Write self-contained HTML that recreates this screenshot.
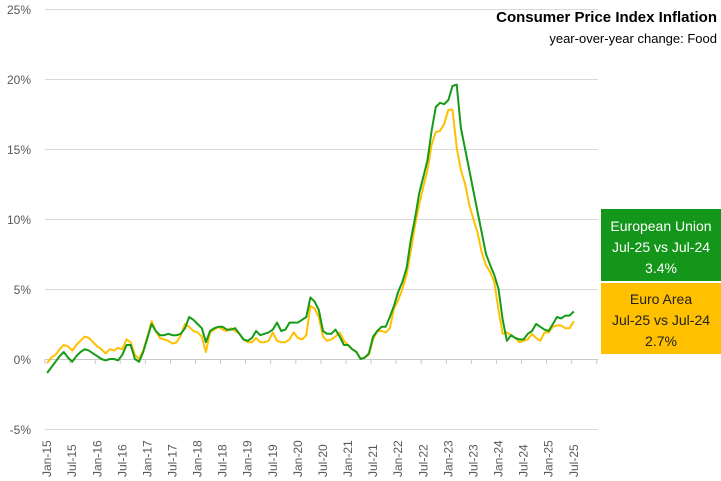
<!DOCTYPE html>
<html><head><meta charset="utf-8"><style>
body{margin:0;background:#fff;}
svg{display:block;font-family:"Liberation Sans",sans-serif;}
</style></head><body>
<svg id="s" width="721" height="481" viewBox="0 0 721 481">
<rect width="721" height="481" fill="#fff"/>
<g stroke="#d9d9d9" stroke-width="1">
<line x1="45" x2="598" y1="9.5" y2="9.5"/><line x1="45" x2="598" y1="79.5" y2="79.5"/>
<line x1="45" x2="598" y1="149.5" y2="149.5"/><line x1="45" x2="598" y1="219.5" y2="219.5"/>
<line x1="45" x2="598" y1="289.5" y2="289.5"/><line x1="45" x2="598" y1="429.5" y2="429.5"/>
<line x1="45" x2="598" y1="359.5" y2="359.5" stroke="#c8c8c8"/>
</g>
<g id="ticks" stroke="#c8c8c8"></g>
<g font-size="12" fill="#595959" text-anchor="end">
<text x="31" y="14">25%</text><text x="31" y="84">20%</text><text x="31" y="154">15%</text>
<text x="31" y="224">10%</text><text x="31" y="294">5%</text><text x="31" y="364">0%</text><text x="31" y="434">-5%</text>
</g>
<g id="xl" font-size="12" fill="#595959"></g>
<polyline id="ea" fill="none" stroke="#ffc000" stroke-width="2" stroke-linejoin="round"/>
<polyline id="eu" fill="none" stroke="#169b16" stroke-width="2" stroke-linejoin="round"/>
<text x="717" y="22" text-anchor="end" font-weight="bold" font-size="15" fill="#000">Consumer Price Index Inflation</text>
<text x="717" y="43" text-anchor="end" font-size="13" fill="#000">year-over-year change: Food</text>
<rect x="601" y="209" width="120" height="72" fill="#14961a"/>
<g fill="#fff" font-size="14" text-anchor="middle"><text x="661" y="231">European Union</text><text x="661" y="252">Jul-25 vs Jul-24</text><text x="661" y="273">3.4%</text></g>
<rect x="601" y="283" width="120" height="71" fill="#ffc000"/>
<g fill="#222" font-size="14" text-anchor="middle"><text x="661" y="304">Euro Area</text><text x="661" y="325">Jul-25 vs Jul-24</text><text x="661" y="346">2.7%</text></g>
</svg>
<script>
var eu=[-1.0,-0.6,-0.2,0.2,0.5,0.1,-0.2,0.2,0.5,0.7,0.6,0.4,
0.2,0.0,-0.1,0.0,0.0,-0.1,0.3,1.0,1.0,0.0,-0.2,0.5,
1.5,2.5,2.0,1.7,1.7,1.8,1.7,1.7,1.8,2.2,3.0,2.8,
2.5,2.2,1.2,2.0,2.2,2.3,2.3,2.1,2.1,2.2,1.8,1.4,
1.3,1.5,2.0,1.7,1.8,1.9,2.1,2.6,2.0,2.1,2.6,2.6,
2.6,2.8,3.0,4.4,4.1,3.5,2.0,1.8,1.8,2.1,1.6,1.0,
1.0,0.7,0.5,0.0,0.1,0.4,1.6,2.0,2.3,2.3,3.0,3.8,
4.8,5.5,6.5,8.5,10.0,11.8,13.0,14.2,16.3,18.0,18.3,18.2,
18.5,19.5,19.6,16.5,15.0,13.5,12.0,10.5,9.0,7.5,6.7,6.0,
5.0,2.8,1.3,1.7,1.5,1.4,1.4,1.8,2.0,2.5,2.3,2.1,
2.0,2.5,3.0,2.9,3.1,3.1,3.4];
var ea=[-0.3,0.1,0.3,0.7,1.0,0.9,0.6,1.0,1.3,1.6,1.5,1.2,
0.9,0.7,0.4,0.7,0.6,0.8,0.7,1.4,1.2,0.3,0.0,0.6,
1.6,2.7,2.0,1.5,1.4,1.3,1.1,1.2,1.7,2.5,2.3,2.0,
1.9,1.6,0.5,1.9,2.1,2.3,2.1,2.0,2.2,2.0,1.8,1.4,
1.2,1.2,1.5,1.2,1.2,1.3,1.9,1.3,1.2,1.2,1.4,1.9,
1.5,1.4,1.7,3.8,3.6,3.0,1.6,1.3,1.4,1.6,1.9,1.3,
1.0,0.7,0.5,0.0,0.1,0.3,1.4,2.0,2.0,1.9,2.2,3.6,
4.2,5.0,6.0,7.7,9.5,11.0,12.3,13.5,15.3,16.2,16.3,16.8,
17.8,17.8,15.1,13.5,12.5,11.0,10.0,9.0,7.6,6.7,6.2,5.5,
3.5,1.8,1.9,1.7,1.5,1.2,1.3,1.4,1.8,1.5,1.3,1.9,
1.9,2.3,2.4,2.4,2.2,2.2,2.7];
function X(i){return 45+4.18*(i+0.5);}
function Y(v){return 359-v*14;}
function pts(a){return a.map(function(v,i){return X(i).toFixed(1)+","+Y(v).toFixed(1);}).join(" ");}
document.getElementById("eu").setAttribute("points",pts(eu));
document.getElementById("ea").setAttribute("points",pts(ea));
var ns="http://www.w3.org/2000/svg",t=document.getElementById("ticks"),xl=document.getElementById("xl");
for(var k=0;k<=22;k++){var x=45+k*6*4.18;var l=document.createElementNS(ns,"line");
l.setAttribute("x1",x.toFixed(1));l.setAttribute("x2",x.toFixed(1));l.setAttribute("y1",359);l.setAttribute("y2",364);t.appendChild(l);}
for(var k=0;k<=21;k++){var yr=15+Math.floor(k/2);var lab=(k%2?"Jul-":"Jan-")+yr;var cx=X(k*6)+4;
var tx=document.createElementNS(ns,"text");tx.setAttribute("transform","translate("+cx.toFixed(1)+",477) rotate(-90)");tx.textContent=lab;xl.appendChild(tx);}
</script>
</body></html>
